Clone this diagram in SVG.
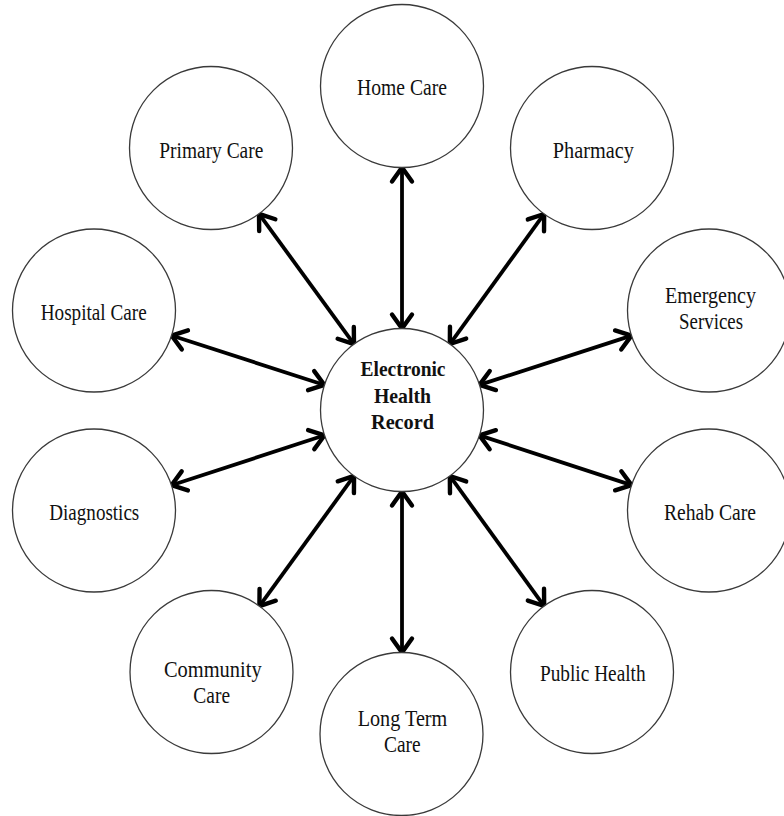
<svg xmlns="http://www.w3.org/2000/svg" width="784" height="816" viewBox="0 0 784 816">
<style>
.node circle{fill:#fff;stroke:#3a3a3a;stroke-width:1.3}
.node text{font-family:"Liberation Serif","Times New Roman",serif;font-size:23px;fill:#111;text-anchor:middle}
.node text.b{font-weight:bold;font-size:22px}
.conn line{stroke:#000;stroke-width:3.8;marker-start:url(#chev);marker-end:url(#chev)}
</style>
<defs>
<marker id="chev" markerUnits="userSpaceOnUse" viewBox="-20 -14 24 28" refX="0" refY="0" markerWidth="24" markerHeight="28" orient="auto-start-reverse">
<path d="M-14,-10 L0,0 L-14,10" fill="none" stroke="#000" stroke-width="4.4" stroke-linejoin="round" stroke-linecap="round"/>
</marker>
</defs>
<rect width="784" height="816" fill="#fff"/>
<g id="connectors" class="conn">
<line x1="402" y1="328.5" x2="402" y2="167.5"/>
<line x1="449.85" y1="344.02" x2="544.15" y2="213.98"/>
<line x1="353.99" y1="344.14" x2="259.01" y2="213.86"/>
<line x1="324.44" y1="384.95" x2="171.56" y2="335.55"/>
<line x1="479.53" y1="384.87" x2="631.47" y2="335.63"/>
<line x1="324.52" y1="435.28" x2="171.48" y2="485.22"/>
<line x1="479.46" y1="435.36" x2="631.54" y2="485.14"/>
<line x1="354.07" y1="475.92" x2="259.43" y2="606.08"/>
<line x1="449.85" y1="475.98" x2="544.15" y2="606.02"/>
<line x1="402" y1="491.5" x2="402" y2="652.5"/>
</g>
<g id="ehr" class="node"><circle cx="402" cy="410" r="81.5"/>
<text class="b" x="403" y="376" textLength="85" lengthAdjust="spacingAndGlyphs">Electronic</text>
<text class="b" x="402.5" y="402.5" textLength="57" lengthAdjust="spacingAndGlyphs">Health</text>
<text class="b" x="402.5" y="429" textLength="63" lengthAdjust="spacingAndGlyphs">Record</text></g>
<g id="home-care" class="node"><circle cx="402" cy="86" r="81.5"/>
<text x="402" y="95" textLength="90" lengthAdjust="spacingAndGlyphs">Home Care</text></g>
<g id="pharmacy" class="node"><circle cx="592" cy="148" r="81.5"/>
<text x="593.3" y="158.3" textLength="81" lengthAdjust="spacingAndGlyphs">Pharmacy</text></g>
<g id="primary-care" class="node"><circle cx="211" cy="148" r="81.5"/>
<text x="211.3" y="158.3" textLength="104" lengthAdjust="spacingAndGlyphs">Primary Care</text></g>
<g id="hospital-care" class="node"><circle cx="94" cy="310.5" r="81.5"/>
<text x="93.7" y="320" textLength="106" lengthAdjust="spacingAndGlyphs">Hospital Care</text></g>
<g id="emergency-services" class="node"><circle cx="709" cy="310.5" r="81.5"/>
<text x="710.5" y="302.7" textLength="91" lengthAdjust="spacingAndGlyphs">Emergency</text>
<text x="711" y="329.3" textLength="64" lengthAdjust="spacingAndGlyphs">Services</text></g>
<g id="diagnostics" class="node"><circle cx="94" cy="510.5" r="81.5"/>
<text x="94.3" y="520" textLength="90" lengthAdjust="spacingAndGlyphs">Diagnostics</text></g>
<g id="rehab-care" class="node"><circle cx="709" cy="510.5" r="81.5"/>
<text x="710" y="520" textLength="92" lengthAdjust="spacingAndGlyphs">Rehab Care</text></g>
<g id="community-care" class="node"><circle cx="211.5" cy="672" r="81.5"/>
<text x="212.8" y="676.7" textLength="97.7" lengthAdjust="spacingAndGlyphs">Community</text>
<text x="211.7" y="702.7" textLength="36.7" lengthAdjust="spacingAndGlyphs">Care</text></g>
<g id="public-health" class="node"><circle cx="592" cy="672" r="81.5"/>
<text x="592.8" y="681" textLength="105.7" lengthAdjust="spacingAndGlyphs">Public Health</text></g>
<g id="long-term-care" class="node"><circle cx="401.5" cy="734" r="81.5"/>
<text x="402.5" y="726" textLength="89.6" lengthAdjust="spacingAndGlyphs">Long Term</text>
<text x="402.3" y="751.7" textLength="36.7" lengthAdjust="spacingAndGlyphs">Care</text></g>
</svg>
